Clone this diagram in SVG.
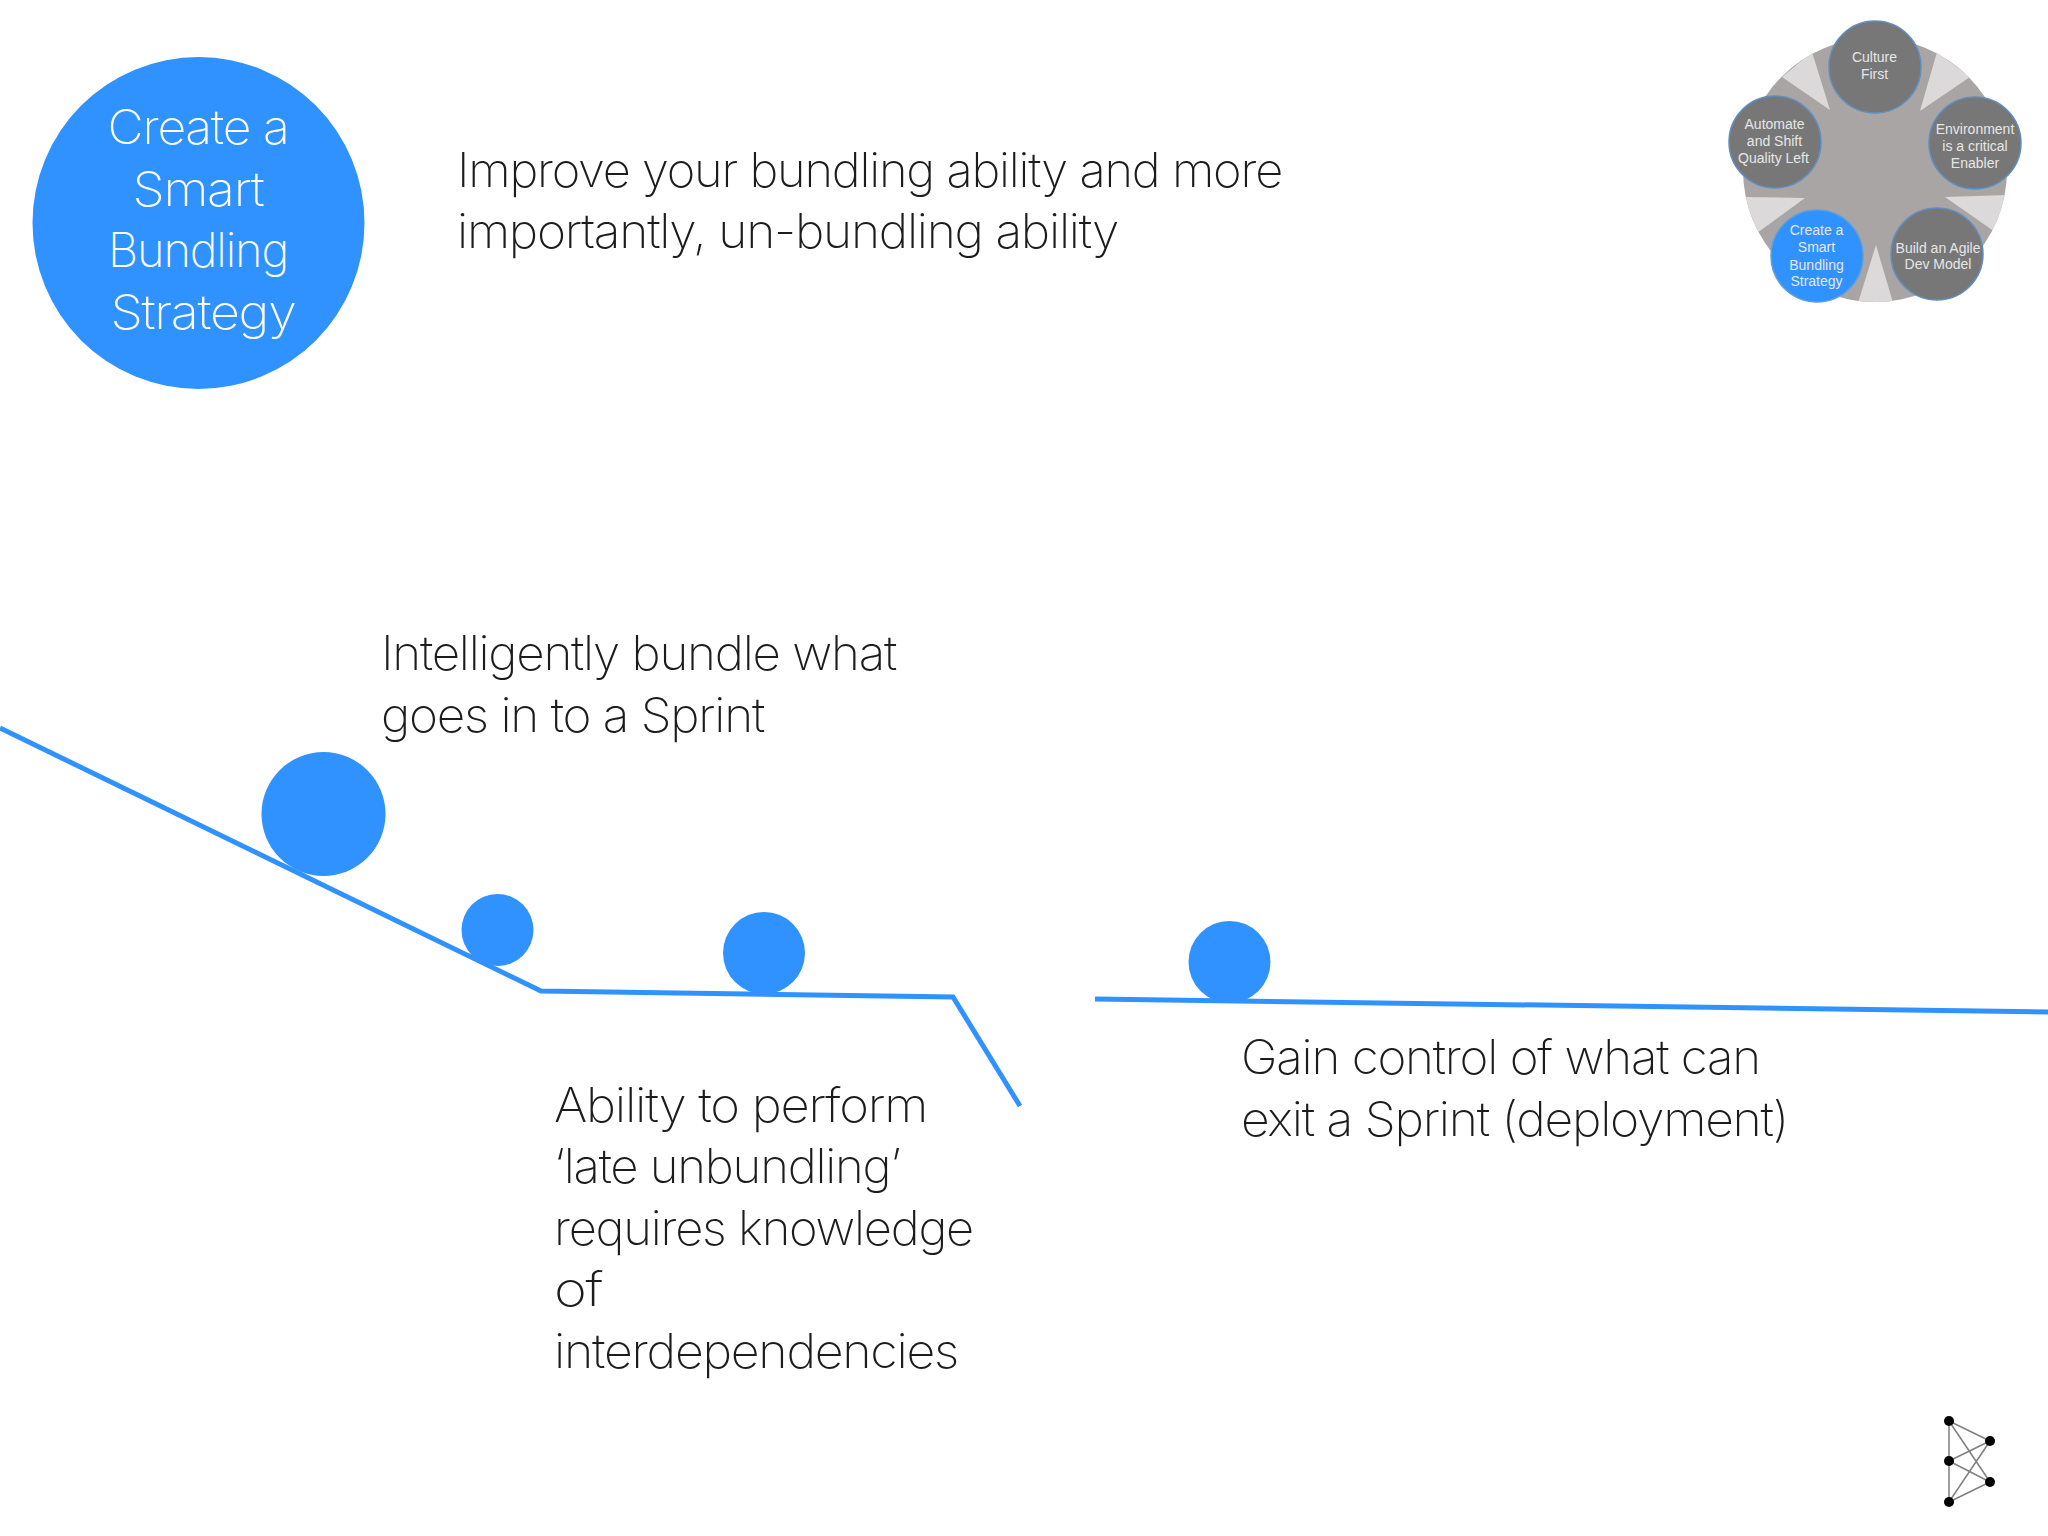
<svg xmlns="http://www.w3.org/2000/svg" width="2048" height="1536" viewBox="0 0 2048 1536">
<style>
.t{font-family:"Inter","Lato","Liberation Sans",sans-serif;font-weight:200;font-size:48px;fill:#1c1c1c;letter-spacing:-1.2px}
.h{fill:#fff;text-anchor:middle}
.b{fill:#3092ff}
.w{font-family:"Liberation Sans",Arial,sans-serif;font-size:14px;fill:#e6e6e6;text-anchor:middle}
.n{fill:#787777;stroke:#5f8fc0;stroke-width:1.5}
.c{fill:none;stroke:#3092ff;stroke-width:5}
.l{stroke:#808080;stroke-width:1.5}
</style>
<defs><clipPath id="wc"><circle cx="1875" cy="170" r="132"/></clipPath></defs>
<rect width="2048" height="1536" fill="#fff"/>
<g id="title"><circle class="b" cx="198.5" cy="223" r="166"/>
<text class="t h" x="198" y="144" textLength="181" lengthAdjust="spacingAndGlyphs">Create a</text>
<text class="t h" x="198" y="206" textLength="131" lengthAdjust="spacingAndGlyphs">Smart</text>
<text class="t h" x="198" y="267" textLength="180" lengthAdjust="spacingAndGlyphs">Bundling</text>
<text class="t h" x="203" y="329" textLength="185" lengthAdjust="spacingAndGlyphs">Strategy</text></g>
<g id="heading"><text class="t" x="457" y="187" textLength="825" lengthAdjust="spacingAndGlyphs">Improve your bundling ability and more</text>
<text class="t" x="457" y="248" textLength="661" lengthAdjust="spacingAndGlyphs">importantly, un-bundling ability</text></g>
<g id="wheel">
<circle cx="1875" cy="170" r="132" fill="#a9a5a5"/>
<g clip-path="url(#wc)" fill="#dbd9da">
<polygon points="1920,111 1937,52 1970,77"/>
<polygon points="1945,197 2010,195 1995,232"/>
<polygon points="1876,245 1894,306 1857,306"/>
<polygon points="1805,198 1740,197 1757,233"/>
<polygon points="1830,110 1782,77 1812,52"/>
</g>
<g id="node-culture"><circle class="n" cx="1875" cy="67" r="46"/><text class="w" x="1874.5" y="62">Culture</text><text class="w" x="1874.5" y="79">First</text></g>
<g id="node-environment"><circle class="n" cx="1975" cy="143" r="46"/><text class="w" x="1975" y="134">Environment</text><text class="w" x="1975" y="151">is a critical</text><text class="w" x="1975" y="168">Enabler</text></g>
<g id="node-agile"><circle class="n" cx="1937" cy="254" r="46"/><text class="w" x="1938" y="253">Build an Agile</text><text class="w" x="1938" y="269">Dev Model</text></g>
<g id="node-bundling"><circle cx="1817" cy="256" r="46" fill="#3092ff" stroke="#5f9fd8" stroke-width="1.5"/><text class="w" x="1816.5" y="235">Create a</text><text class="w" x="1816.5" y="252">Smart</text><text class="w" x="1816.5" y="270">Bundling</text><text class="w" x="1816.5" y="286">Strategy</text></g>
<g id="node-automate"><circle class="n" cx="1775" cy="142" r="46"/><text class="w" x="1774.5" y="129">Automate</text><text class="w" x="1774.5" y="146">and Shift</text><text class="w" x="1773.5" y="163">Quality Left</text></g>
</g>
<g id="connectors">
<polyline class="c" points="0,728 541,991 953,997 1020,1106"/>
<polyline class="c" points="1095,999 2048,1012"/>
</g>
<g id="balls">
<circle id="ball-1" class="b" cx="323.5" cy="814" r="62"/>
<circle id="ball-2" class="b" cx="497.5" cy="930" r="36"/>
<circle id="ball-3" class="b" cx="764" cy="953" r="41"/>
<circle id="ball-4" class="b" cx="1229.5" cy="962" r="41"/>
</g>
<g id="label-bundle"><text class="t" x="381" y="670" textLength="515" lengthAdjust="spacingAndGlyphs">Intelligently bundle what</text><text class="t" x="381" y="732" textLength="383" lengthAdjust="spacingAndGlyphs">goes in to a Sprint</text></g>
<g id="label-unbundle"><text class="t" x="554" y="1122" textLength="373" lengthAdjust="spacingAndGlyphs">Ability to perform</text><text class="t" x="554" y="1183" textLength="346" lengthAdjust="spacingAndGlyphs">‘late unbundling’</text><text class="t" x="554" y="1245" textLength="419" lengthAdjust="spacingAndGlyphs">requires knowledge</text><text class="t" x="554" y="1306" textLength="48" lengthAdjust="spacingAndGlyphs">of</text><text class="t" x="554" y="1368" textLength="404" lengthAdjust="spacingAndGlyphs">interdependencies</text></g>
<g id="label-exit"><text class="t" x="1241" y="1074" textLength="519" lengthAdjust="spacingAndGlyphs">Gain control of what can</text><text class="t" x="1241" y="1136" textLength="547" lengthAdjust="spacingAndGlyphs">exit a Sprint (deployment)</text></g>
<g id="logo">
<path class="l" fill="none" d="M1949 1421V1502M1949 1421L1990 1441M1949 1421L1990 1482M1949 1461L1990 1441M1949 1461L1990 1482M1949 1502L1990 1441M1949 1502L1990 1482"/>
<g fill="#000"><circle cx="1949" cy="1421" r="5"/><circle cx="1990" cy="1441" r="5"/><circle cx="1949" cy="1461" r="5"/><circle cx="1990" cy="1482" r="5"/><circle cx="1949" cy="1502" r="5"/></g>
</g>
</svg>
